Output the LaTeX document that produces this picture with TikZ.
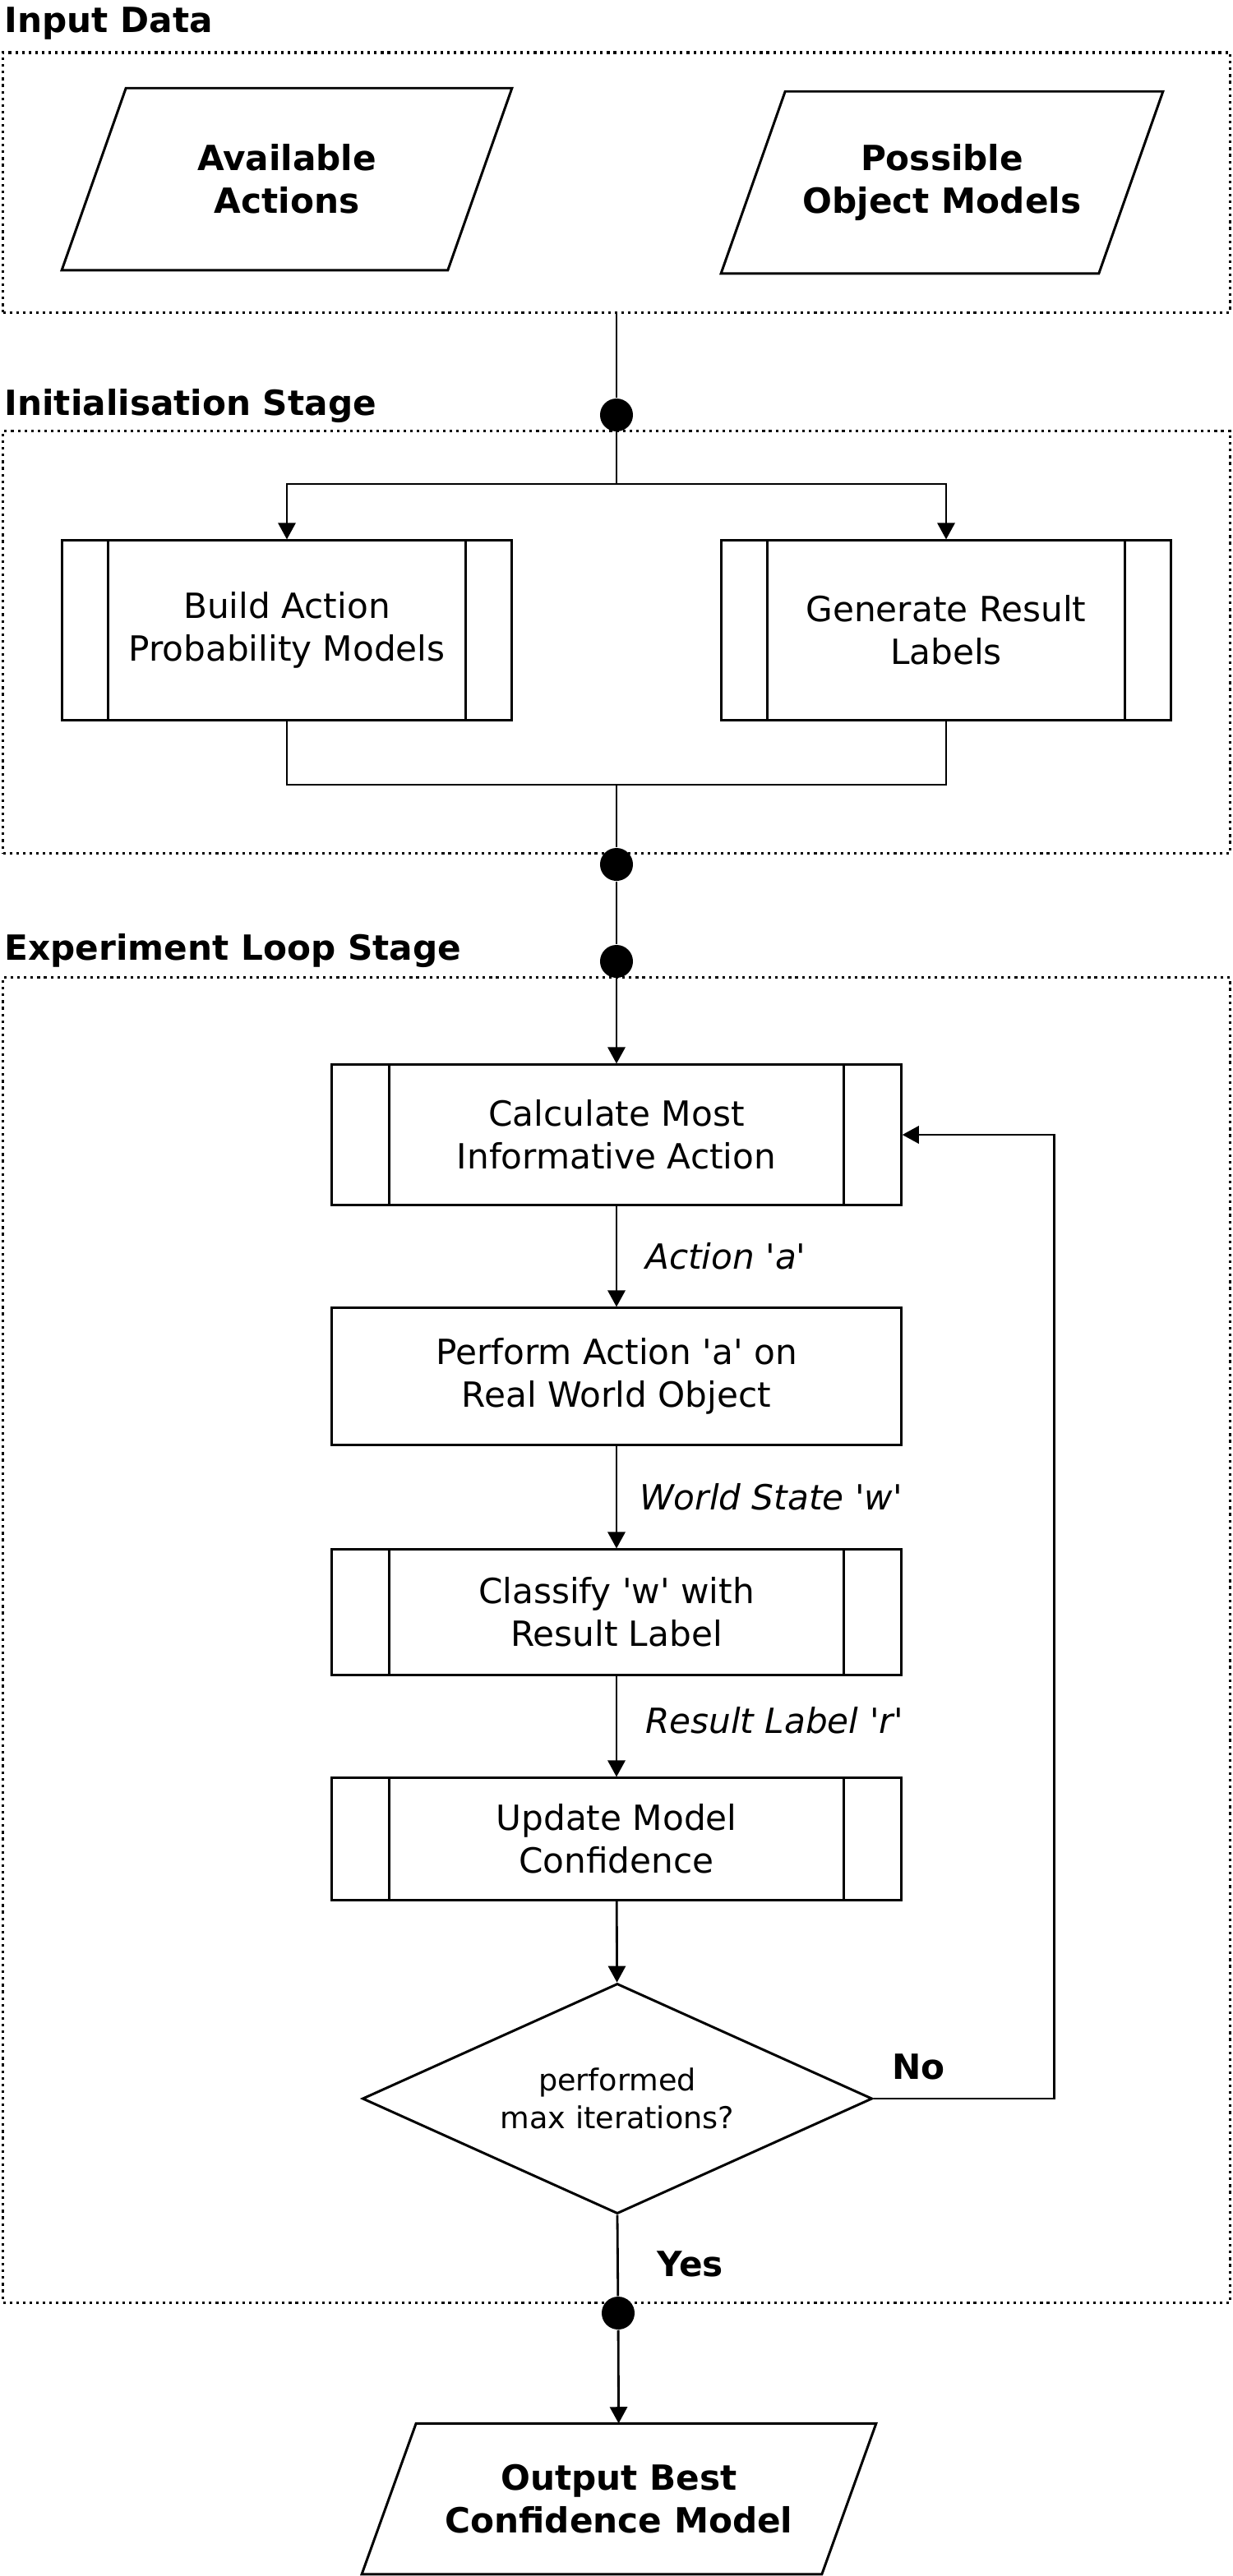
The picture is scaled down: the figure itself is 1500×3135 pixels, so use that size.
\documentclass[tikz,border=0pt]{standalone}
\usepackage{fontspec}
\setmainfont{DejaVu Sans}
\usetikzlibrary{arrows.meta,positioning,shapes.geometric}
\newcommand{\q}{\textquotesingle}
\newcommand{\ioshape}[2]{\draw[line width=0.85pt] ([xshift=#2]#1.north west) -- ([xshift=#2]#1.north east) -- ([xshift=-#2]#1.south east) -- ([xshift=-#2]#1.south west) -- cycle;}

\begin{document}
\begin{tikzpicture}[x=0.01cm, y=-0.01cm, font=\fontsize{12}{14.8}\selectfont,
  >={Triangle[length=5.7pt,width=6pt]},
  stage/.style={draw, line width=0.9pt, dash pattern=on 0.9pt off 1.4pt, minimum width=14.92cm, inner sep=0},
  stagetitle/.style={font=\fontsize{12}{14.8}\selectfont\bfseries, anchor=base west, inner sep=0},
  io/.style={align=center, font=\fontsize{12}{14.8}\selectfont\bfseries, inner sep=0},
  process/.style={draw, line width=0.85pt, align=center, minimum width=6.92cm},
  subproc/.style={process, path picture={
    \draw[line width=0.85pt] ([xshift=#1]path picture bounding box.north west) -- ([xshift=#1]path picture bounding box.south west)
      ([xshift=-#1]path picture bounding box.north east) -- ([xshift=-#1]path picture bounding box.south east);}},
  subproc/.default=0.7cm,
  decision/.style={diamond, draw, line width=0.85pt, aspect=2.2, minimum width=6.2cm, minimum height=2.8cm,
    align=center, inner sep=2pt, font=\fontsize{10.4}{13}\selectfont},
  junction/.style={circle, fill, inner sep=0, minimum size=0.4cm},
  link/.style={line width=0.8pt},
  flow/.style={link, ->},
  flowlabel/.style={right, font=\fontsize{12}{14.8}\selectfont\itshape},
  answer/.style={font=\fontsize{12}{14.8}\selectfont\bfseries}]
  \useasboundingbox (0,0) rectangle (1500,3135);

  % input data
  \node[stage, minimum height=3.16cm] (inputstage) at (750,222) {};
  \node[stagetitle] (inputtitle) at (5,39) {Input Data};
  \node[io, minimum width=4.68cm, minimum height=2.2cm] (avail) at (349,218) {Available\\Actions};
  \ioshape{avail}{0.39cm}
  \node[io, minimum width=4.58cm, minimum height=2.2cm] (possible) at (1146,222) {Possible\\Object Models};
  \ioshape{possible}{0.39cm}

  % initialisation
  \node[stage, minimum height=5.13cm] (initstage) at (750,781.5) {};
  \node[stagetitle] (inittitle) at (5,505) {Initialisation Stage};
  \node[junction] (fork) at (750,505) {};
  \coordinate (split) at (750,589);
  \node[subproc=0.56cm, minimum width=5.46cm, minimum height=2.18cm] (build) at (349,767) {Build Action\\Probability Models};
  \node[subproc=0.56cm, minimum width=5.46cm, minimum height=2.18cm] (labels) at (1151,767) {Generate Result\\Labels};
  \coordinate (merge) at (750,955);
  \node[junction] (initout) at (750,1052) {};

  % experiment loop
  \node[stage, minimum height=16.12cm] (loopstage) at (750,1996) {};
  \node[stagetitle] (looptitle) at (5,1168) {Experiment Loop Stage};
  \node[junction] (loopin) at (750,1170) {};
  \node[subproc, minimum height=1.7cm] (calc) at (750,1381) {Calculate Most\\Informative Action};
  \node[process, minimum height=1.66cm] (perform) at (750,1675) {Perform Action \q a\q{} on\\Real World Object};
  \node[subproc, minimum height=1.52cm] (classify) at (750,1962) {Classify \q w\q{} with\\Result Label};
  \node[subproc, minimum height=1.48cm] (update) at (750,2238) {Update Model\\Confidence};
  \node[decision] (maxiter) at (751,2554) {performed\\max iterations?};
  \node[junction] (loopout) at (752,2815) {};
  \node[io, minimum width=5.58cm, minimum height=1.82cm] (output) at (753,3041) {Output Best\\Confidence Model};
  \ioshape{output}{0.33cm}

  \draw[link] (inputstage.south) -- (fork);
  \draw[link] (fork) -- (split);
  \draw[flow] (split) -| (build.north);
  \draw[flow] (split) -| (labels.north);
  \draw[link] (build.south) |- (merge);
  \draw[link] (labels.south) |- (merge);
  \draw[link] (merge) -- (initout);
  \draw[link] (initout) -- (loopin);
  \draw[flow] (loopin) -- (calc);
  \draw[flow] (calc) -- node[flowlabel, xshift=0.22cm] {Action \q a\q} (perform);
  \draw[flow] (perform) -- node[flowlabel, xshift=0.15cm] {World State \q w\q} (classify);
  \draw[flow] (classify) -- node[flowlabel, xshift=0.22cm, yshift=0.07cm] {Result Label \q r\q} (update);
  \draw[flow] (update) -- (maxiter);
  \draw[flow] (maxiter.east) -- node[answer, pos=0.25, above=0.1cm] {No} ++(220,0) |- (calc.east);
  \draw[link] (maxiter.south) -- node[answer, right, xshift=0.35cm, yshift=-0.1cm] {Yes} (loopout);
  \draw[flow] (loopout) -- (output);
\end{tikzpicture}
\end{document}
